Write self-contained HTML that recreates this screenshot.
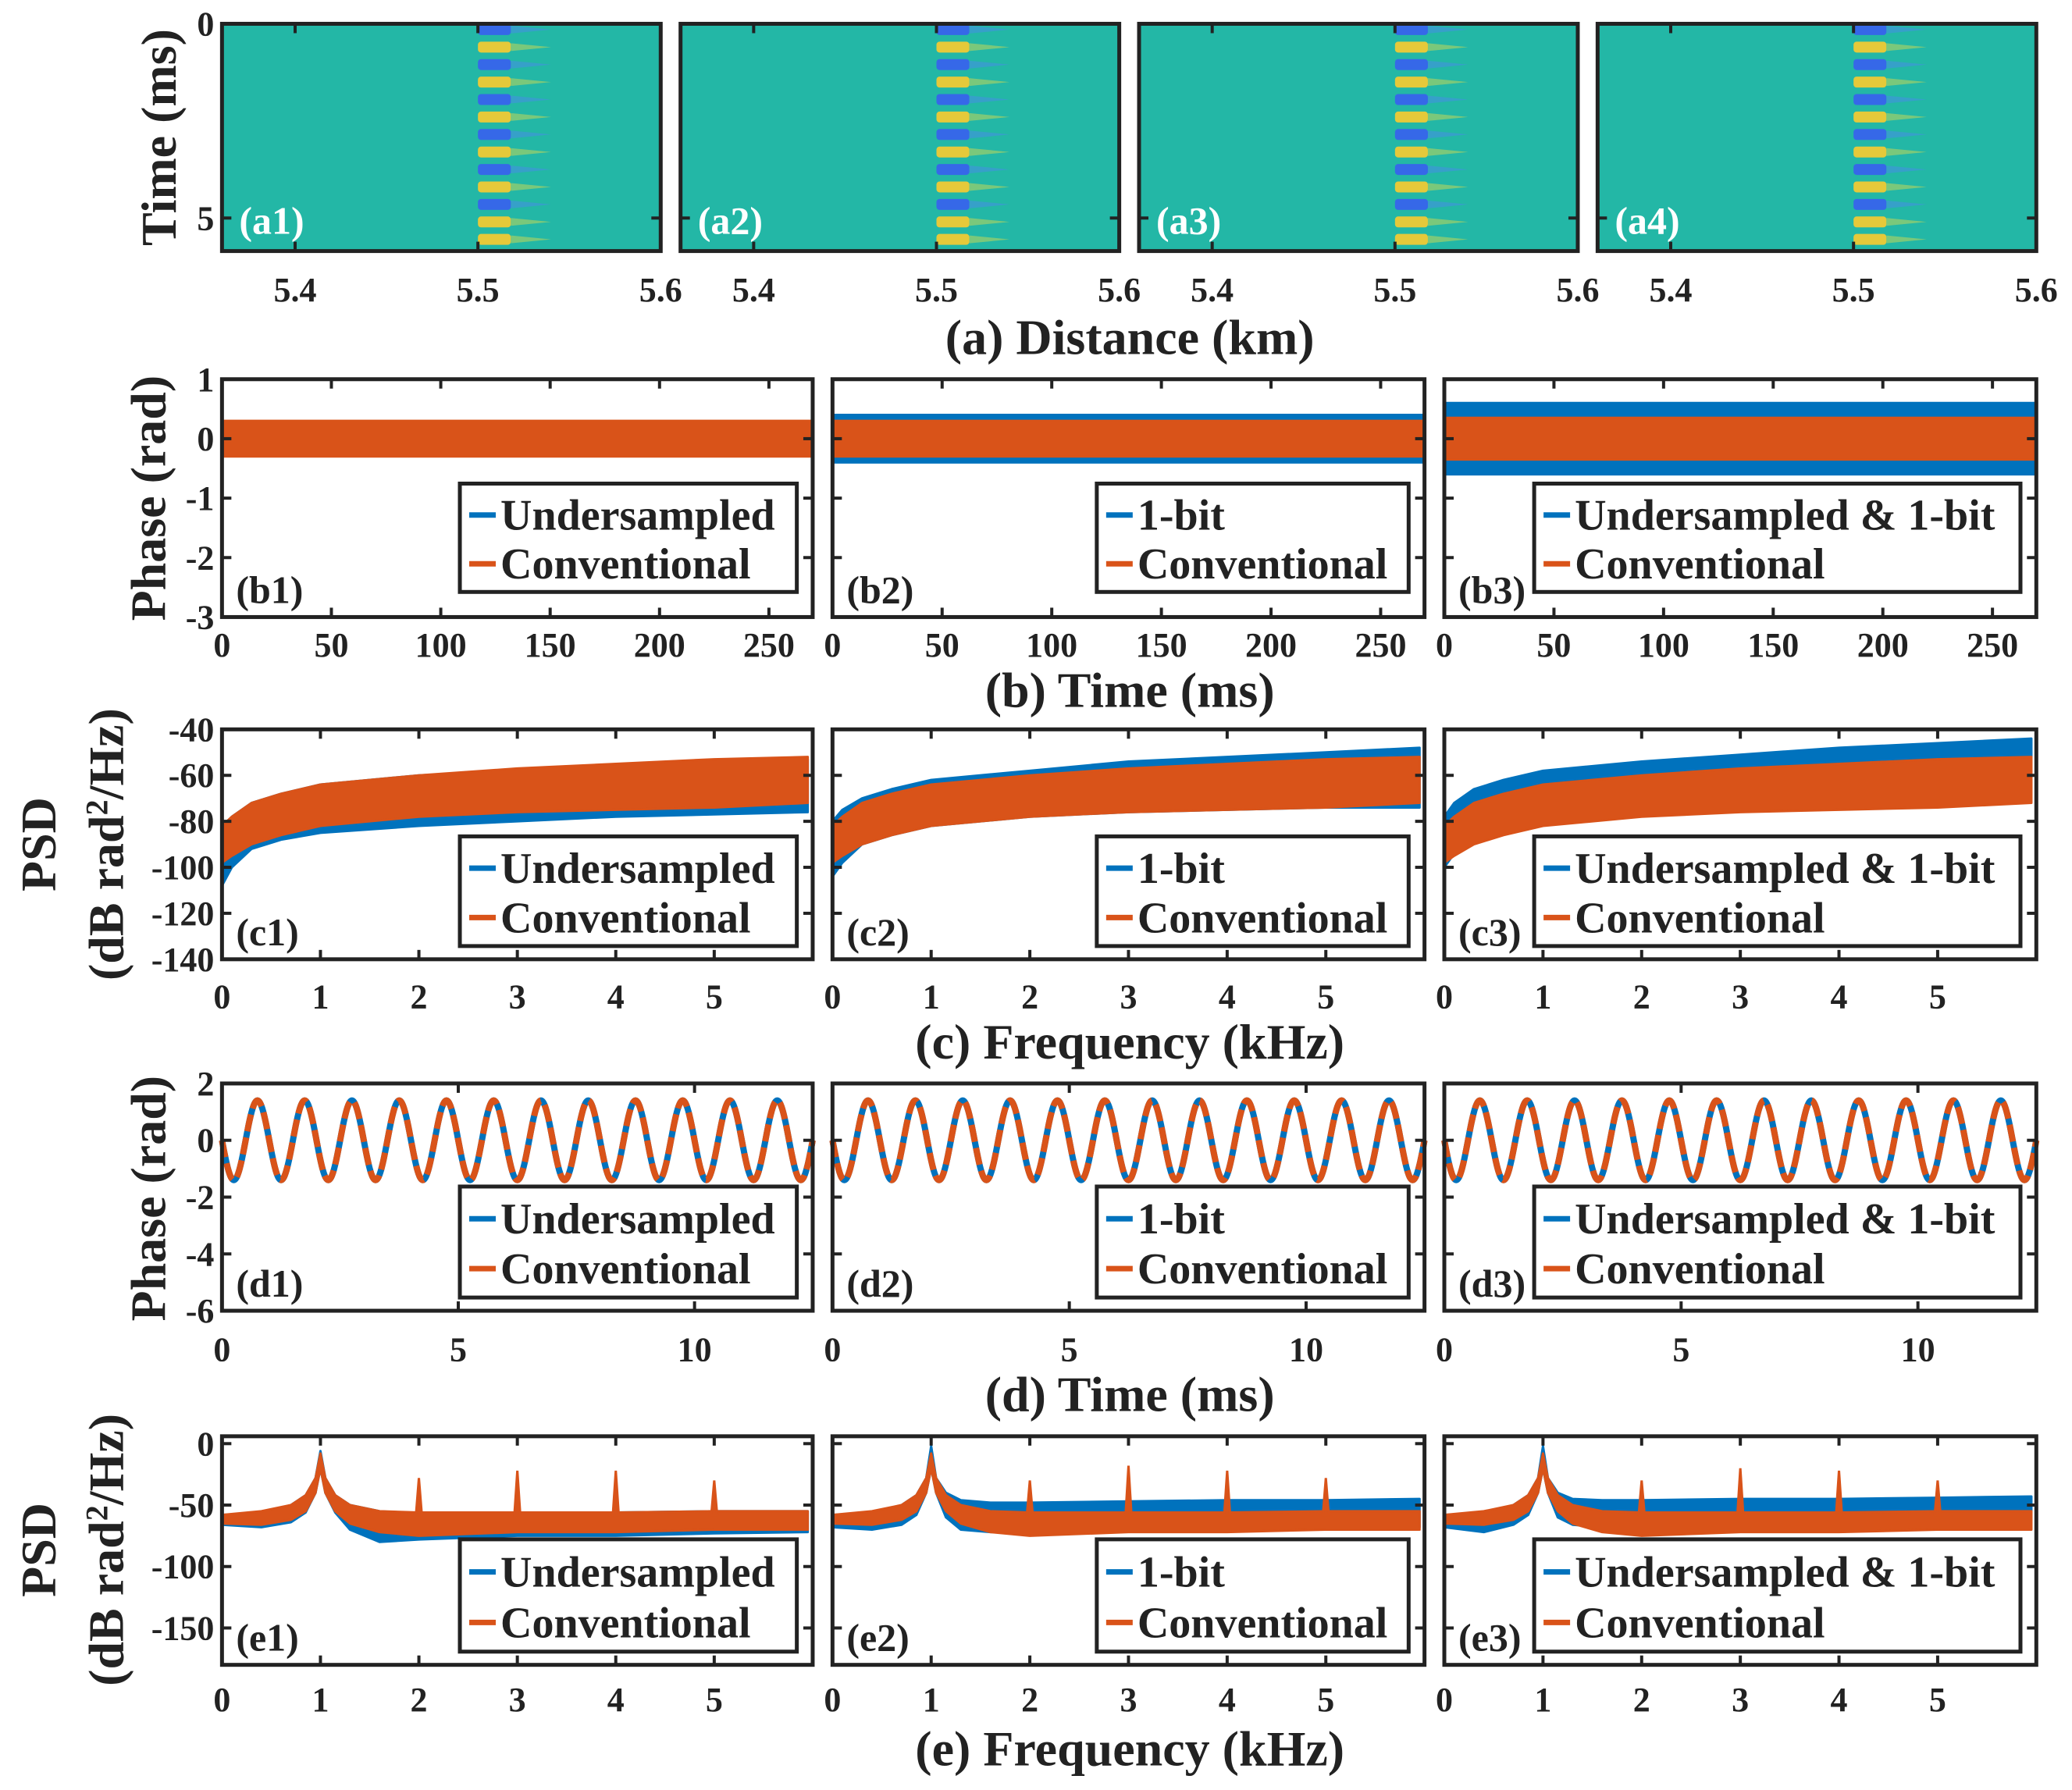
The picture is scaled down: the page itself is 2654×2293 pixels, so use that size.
<!DOCTYPE html>
<html><head><meta charset="utf-8">
<style>
html,body{margin:0;padding:0;background:#fff;}
svg{display:block;font-family:"Liberation Serif",serif;font-weight:bold;}
</style></head>
<body>
<svg id="fig" width="2654" height="2293" viewBox="0 0 2654 2293" xmlns="http://www.w3.org/2000/svg"></svg>
<script>
// ---------- data ----------
const aTicks = [5.4, 5.5, 5.6];
const aYTicks = [0, 5];
const stripeTimes = [0.15,0.6,1.05,1.5,1.95,2.4,2.85,3.3,3.75,4.2,4.65,5.1,5.55];
const stripeVals  = [-1,1,-1,1,-1,1,-1,1,-1,1,-1,1,1];
const bTicks = [0,50,100,150,200,250];
const bYTicks = [1,0,-1,-2,-3];
const cTicks = [0,1,2,3,4,5];
const cYTicks = [-40,-60,-80,-100,-120,-140];
const dTicks = [0,5,10];
const dYTicks = [2,0,-2,-4,-6];
const eTicks = [0,1,2,3,4,5];
const eYTicks = [0,-50,-100,-150];
// phase noise envelopes (rad) per panel: [blueUpper, blueLower, orangeUpper, orangeLower]
const bEnv = [[0.25,-0.25,0.3,-0.3],[0.4,-0.4,0.3,-0.3],[0.6,-0.6,0.35,-0.35]];
// PSD envelope x (kHz)
const cX = [0,0.1,0.3,0.6,1,2,3,4,5,5.95];
const cOrangeUp = [-82,-78,-72,-68,-64,-60,-57,-55,-53,-52];
const cOrangeLo = [-98,-95,-90,-86,-82,-78,-76,-75,-74,-72];
const cBlueUp = [[-84,-78,-72,-68,-64,-60,-58,-56,-54,-53],[-80,-75,-70,-66,-62,-58,-54,-52,-50,-48],[-78,-72,-66,-62,-58,-54,-51,-48,-46,-44]];
const cBlueLo = [[-108,-100,-92,-88,-85,-82,-80,-78,-77,-76],[-104,-98,-90,-86,-82,-78,-76,-75,-74,-74],[-100,-94,-86,-80,-76,-72,-70,-68,-67,-66]];
// sine in (d)
const dAmp = [1.4,1.4,1.4];
const dFreqKHz = [1,1,1];
const dDelayMs = [0.5,0.5,0.5];
// PSD (e) envelopes
const eX = [0,0.4,0.7,0.85,0.95,1,1.05,1.15,1.3,1.6,2,3,4,5,5.95];
const eOrangeUp = [-58,-55,-50,-42,-28,-8,-28,-42,-50,-55,-56,-56,-56,-55,-55];
const eOrangeLo = [-65,-66,-62,-55,-40,-20,-40,-55,-65,-72,-75,-72,-72,-70,-70];
const eBlueUp = [[-58,-56,-50,-42,-28,-6,-28,-42,-50,-55,-57,-56,-56,-55,-55],[-58,-56,-50,-42,-28,-2,-28,-40,-46,-48,-48,-47,-46,-46,-45],[-58,-56,-50,-42,-28,-2,-28,-40,-45,-46,-46,-45,-45,-44,-43]];
const eBlueLo = [[-66,-68,-64,-56,-40,-20,-40,-56,-70,-80,-78,-75,-75,-73,-72],[-68,-70,-66,-58,-40,-20,-40,-60,-70,-72,-72,-70,-68,-68,-68],[-68,-72,-66,-58,-40,-20,-40,-60,-66,-68,-66,-64,-62,-62,-62]];
const ePeakF = [2,3,4,5];
const ePeakV = [[-28,-22,-22,-30],[-30,-18,-22,-28],[-30,-20,-22,-30]];

// ---------- layout ----------
const S = 2654/1568;
const NS = "http://www.w3.org/2000/svg";
const svg = document.getElementById('fig');
const BLUE = "#0072BD", ORANGE = "#D95319";
const TICK = 44, LEG = 56, TITLE = 64, PLAB = 50;
function el(tag, attrs, parent){ const e=document.createElementNS(NS,tag); for(const k in attrs) e.setAttribute(k,attrs[k]); (parent||svg).appendChild(e); return e; }
function txt(x,y,s,size,anchor,parent,fill){ const t=el('text',{x:x,y:y,'font-size':size,'text-anchor':anchor||'middle',fill:fill||'#222'},parent); t.textContent=s; return t; }

function makeAxes(name, x0,x1,y0,y1, xmin,xmax,ymin,ymax,flipY){
  const g = el('g',{});
  
  
  const X=v=>(x0+(v-xmin)/(xmax-xmin)*(x1-x0))*S;
  const Y=flipY ? (v=>(y0+(v-ymin)/(ymax-ymin)*(y1-y0))*S) : (v=>(y1-(v-ymin)/(ymax-ymin)*(y1-y0))*S);
  return {g,X,Y,L:x0*S,R:x1*S,T:y0*S,B:y1*S};
}
function frame(ax, xt, yt, xlabY, showY, xfmt){
  el('rect',{x:ax.L,y:ax.T,width:ax.R-ax.L,height:ax.B-ax.T,fill:'none',stroke:'#222','stroke-width':5},ax.g);
  xt.forEach(v=>{ const x=ax.X(v);
    el('line',{x1:x,y1:ax.B,x2:x,y2:ax.B-12,stroke:'#222','stroke-width':4},ax.g);
    el('line',{x1:x,y1:ax.T,x2:x,y2:ax.T+12,stroke:'#222','stroke-width':4},ax.g);
    const t=txt(x,xlabY*S,xfmt?xfmt(v):String(v),TICK,'middle',ax.g);
    
  });
  yt.forEach(v=>{ const y=ax.Y(v);
    el('line',{x1:ax.L,y1:y,x2:ax.L+12,y2:y,stroke:'#222','stroke-width':4},ax.g);
    el('line',{x1:ax.R,y1:y,x2:ax.R-12,y2:y,stroke:'#222','stroke-width':4},ax.g);
    if(showY){ const t=txt(ax.L-10,y+15,String(v),TICK,'end',ax.g);  }
  });
}
function band(ax, xs, up, lo, color){
  let pts=[];
  xs.forEach((x,i)=>pts.push(ax.X(x)+','+ax.Y(up[i])));
  for(let i=xs.length-1;i>=0;i--) pts.push(ax.X(xs[i])+','+ax.Y(lo[i]));
  return el('polygon',{points:pts.join(' '),fill:color,stroke:color,'stroke-width':3,'stroke-linejoin':'round'},ax.g);
}
function legend(ax, label1, boxW, by0, by1){
  const g=el('g',{},ax.g);
  
  
  const R=ax.R-12*S, Lx=R-boxW*S, T=by0*S, B=by1*S;
  el('rect',{x:Lx,y:T,width:R-Lx,height:B-T,fill:'#fff',stroke:'#222','stroke-width':5},g);
  const rows=[[label1,BLUE],['Conventional',ORANGE]];
  rows.forEach((r,i)=>{
    const cy=T+(B-T)*(i===0?0.29:0.74);
    const ln=el('line',{x1:Lx+12,y1:cy,x2:Lx+46,y2:cy,stroke:r[1],'stroke-width':7},g);
    
    const t=txt(Lx+52,cy+19,r[0],LEG,'start',g);
    
  });
}

// ---------- row a: heatmaps ----------
const aCols=[[168,500],[515,847],[862,1194],[1209,1541]];
aCols.forEach((c,i)=>{
  const ax=makeAxes('heatmap-a'+(i+1),c[0],c[1],18,190,5.36,5.6,0,5.85,true);
  el('rect',{x:ax.L,y:ax.T,width:ax.R-ax.L,height:ax.B-ax.T,fill:'#23b7a6'},ax.g);
  stripeTimes.forEach((t,k)=>{
    const v=stripeVals[k];
    const col=v>0?'#e5c93a':'#3668e8';
    const r=el('rect',{x:ax.X(5.5),y:ax.Y(t)-7,width:ax.X(5.518)-ax.X(5.5),height:14,fill:col,rx:4},ax.g);
    
    el('polygon',{points:`${ax.X(5.518)},${ax.Y(t)-5} ${ax.X(5.54)},${ax.Y(t)} ${ax.X(5.518)},${ax.Y(t)+5}`,fill:v>0?'#9fcf6a':'#3f95d8',opacity:0.7},ax.g);
  });
  frame(ax,aTicks,aYTicks,228,i===0,v=>v.toFixed(1));
  const pl=txt(ax.L+22,ax.B-22,'(a'+(i+1)+')',PLAB,'start',ax.g,'#fff'); 
});

const cols=[[168,615],[630,1078],[1093,1541]];
const leg1=['Undersampled','1-bit','Undersampled & 1-bit'];
const legW=[255,236,368];

// ---------- row b ----------
cols.forEach((c,i)=>{
  const ax=makeAxes('phase-b'+(i+1),c[0],c[1],287,467,0,270,-3,1);
  const e=bEnv[i];
  band(ax,[0,270],[e[0],e[0]],[e[1],e[1]],BLUE);
  band(ax,[0,270],[e[2],e[2]],[e[3],e[3]],ORANGE);
  frame(ax,bTicks,bYTicks,497,i===0);
  legend(ax,leg1[i],legW[i],366,448);
  const pl=txt(ax.L+18,ax.B-18,'(b'+(i+1)+')',PLAB,'start',ax.g); 
});
// ---------- row c ----------
cols.forEach((c,i)=>{
  const ax=makeAxes('psd-c'+(i+1),c[0],c[1],552,726,0,6,-140,-40);
  band(ax,cX,cBlueUp[i],cBlueLo[i],BLUE);
  band(ax,cX,cOrangeUp,cOrangeLo,ORANGE);
  frame(ax,cTicks,cYTicks,763,i===0);
  legend(ax,leg1[i],legW[i],633,716);
  const pl=txt(ax.L+18,ax.B-18,'(c'+(i+1)+')',PLAB,'start',ax.g); 
});
// ---------- row d ----------
cols.forEach((c,i)=>{
  const ax=makeAxes('phase-d'+(i+1),c[0],c[1],820,992,0,12.5,-6,2);
  let pb=[];
  for(let k=0;k<=1000;k++){ const t=k/1000*12.5;
    const v=dAmp[i]*Math.sin(2*Math.PI*dFreqKHz[i]*(t-dDelayMs[i]));
    pb.push(ax.X(t)+','+ax.Y(v)); }
  const l1=el('polyline',{points:pb.join(' '),fill:'none',stroke:BLUE,'stroke-width':8},ax.g); 
  const l2=el('polyline',{points:pb.join(' '),fill:'none',stroke:ORANGE,'stroke-width':8,'stroke-dasharray':'22 8'},ax.g); 
  frame(ax,dTicks,dYTicks,1030,i===0);
  legend(ax,leg1[i],legW[i],898,982);
  const pl=txt(ax.L+18,ax.B-18,'(d'+(i+1)+')',PLAB,'start',ax.g); 
});
// ---------- row e ----------
cols.forEach((c,i)=>{
  const ax=makeAxes('psd-e'+(i+1),c[0],c[1],1087,1260,0,6,-180,6);
  band(ax,eX,eBlueUp[i],eBlueLo[i],BLUE);
  band(ax,eX,eOrangeUp,eOrangeLo,ORANGE);
  ePeakF.forEach((f,k)=>{
    const p=el('polygon',{points:`${ax.X(f-0.03)},${ax.Y(-58)} ${ax.X(f)},${ax.Y(ePeakV[i][k])} ${ax.X(f+0.03)},${ax.Y(-58)}`,fill:ORANGE,stroke:ORANGE,'stroke-width':3},ax.g);
    
  });
  frame(ax,eTicks,eYTicks,1295,i===0);
  legend(ax,leg1[i],legW[i],1165,1250);
  const pl=txt(ax.L+18,ax.B-18,'(e'+(i+1)+')',PLAB,'start',ax.g); 
});

// ---------- titles & axis labels ----------
[['(a) Distance (km)',268,'x-axis-title-a'],['(b) Time (ms)',535,'x-axis-title-b'],['(c) Frequency (kHz)',801,'x-axis-title-c'],['(d) Time (ms)',1068,'x-axis-title-d'],['(e) Frequency (kHz)',1336,'x-axis-title-e']].forEach(a=>{
  const t=txt(855*S,a[1]*S,a[0],TITLE,'middle');  
});
function vlabel(x,y,s,name){
  const t=el('text',{x:0,y:0,'font-size':TITLE,'text-anchor':'middle',fill:'#222',transform:`translate(${x*S},${y*S}) rotate(-90)`});
  t.textContent=s;   return t;
}
vlabel(133,104,'Time (ms)','y-axis-title-a');
vlabel(125,377,'Phase (rad)','y-axis-title-b');
vlabel(125,907,'Phase (rad)','y-axis-title-d');
[[639,'y-axis-title-c'],[1173,'y-axis-title-e']].forEach(r=>{
  vlabel(42,r[0],'PSD',r[1]);
  const t=el('text',{x:0,y:0,'font-size':TITLE,'text-anchor':'middle',fill:'#222',transform:`translate(${93*S},${r[0]*S}) rotate(-90)`});
   
  t.innerHTML='(dB rad<tspan dy="-20" font-size="40">2</tspan><tspan dy="20">/Hz)</tspan>';
});
</script>
</body></html>
